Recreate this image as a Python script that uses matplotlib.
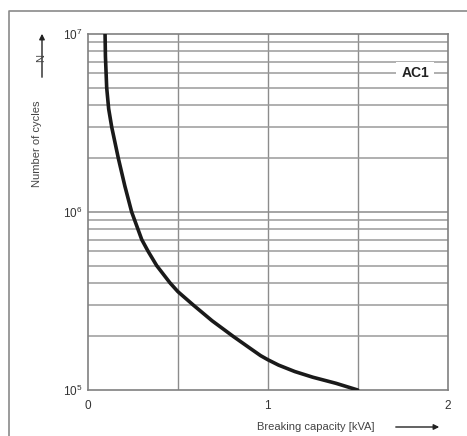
import matplotlib.pyplot as plt
from matplotlib.lines import Line2D

plt.rcParams["font.family"] = ["Liberation Sans", "DejaVu Sans"]
plt.rcParams["mathtext.fontset"] = "custom"
plt.rcParams["mathtext.rm"] = "Liberation Sans"
plt.rcParams["mathtext.it"] = "Liberation Sans:italic"
plt.rcParams["mathtext.bf"] = "Liberation Sans:bold"

# curve: breaking capacity [kVA] vs number of cycles
capacity = [0.095, 0.097, 0.104, 0.115, 0.132, 0.169, 0.205, 0.243, 0.299, 0.335,
            0.382, 0.456, 0.5, 0.586, 0.69, 0.808, 0.9, 0.96, 1.0, 1.06, 1.15,
            1.25, 1.38, 1.5]
cycles = [1.0e7, 7.5e6, 5.0e6, 3.8e6, 3.0e6, 2.0e6, 1.4e6, 1.0e6, 7.0e5, 6.0e5,
          5.0e5, 4.0e5, 3.57e5, 3.0e5, 2.45e5, 2.0e5, 1.72e5, 1.56e5, 1.48e5,
          1.38e5, 1.27e5, 1.18e5, 1.09e5, 1.0e5]

x_ticks = [0, 1, 2]
x_grid = [0.5, 1.5]
y_ticks = [1e5, 1e6, 1e7]
y_tick_labels = [r"$10^5$", r"$10^6$", r"$10^7$"]
series_label = "AC1"

fig = plt.figure(figsize=(4.67, 4.36), dpi=100)
ax = fig.add_axes([0.1884, 0.1055, 0.770, 0.8165])

ax.set_yscale("log")
ax.set_xlim(0, 2)
ax.set_ylim(1e5, 1e7)

# grid
for xv in x_grid + [1]:
    ax.axvline(xv, color="#8c8c8c", lw=1.0, zorder=1)
for dec in [1e5, 1e6]:
    for m in range(2, 10):
        ax.axhline(m * dec, color="#9a9a9a", lw=1.1, zorder=1)
ax.axhline(1e6, color="#8c8c8c", lw=1.1, zorder=1)

ax.plot(capacity, cycles, color="#1a1a1a", lw=2.6, zorder=3,
        solid_capstyle="round", solid_joinstyle="round")

for s in ax.spines.values():
    s.set_color("#808080")
    s.set_linewidth(1.2)

ax.set_xticks(x_ticks)
ax.set_xticklabels([str(v) for v in x_ticks])
ax.set_yticks(y_ticks)
ax.set_yticklabels(y_tick_labels)
ax.minorticks_off()
ax.tick_params(length=0, labelsize=8.5, colors="#333333", pad=7)
ax.tick_params(axis="y", pad=4)

# AC1 label on a white box
ax.text(1.82, 6.0e6, series_label, ha="center", va="center", fontsize=10,
        fontweight="bold", color="#222222", zorder=4,
        bbox=dict(facecolor="white", edgecolor="none", pad=3.5))

# axis labels with arrows
fig.text(316 / 467, 1 - 427 / 436, "Breaking capacity [kVA]", ha="center",
         va="center", fontsize=8, color="#444444")
ax.annotate("", xy=(442 / 467, 1 - 427 / 436), xytext=(393 / 467, 1 - 427 / 436),
            xycoords="figure fraction",
            arrowprops=dict(arrowstyle="-|>", color="#222222", lw=1.0,
                            mutation_scale=8))
fig.text(37 / 467, 1 - 144 / 436, "Number of cycles", rotation=90, ha="center",
         va="center", fontsize=8, color="#444444")
fig.text(41 / 467, 1 - 58 / 436, "N", rotation=90, ha="center", va="center",
         fontsize=8, color="#444444")
ax.annotate("", xy=(42 / 467, 1 - 31 / 436), xytext=(42 / 467, 1 - 80 / 436),
            xycoords="figure fraction",
            arrowprops=dict(arrowstyle="-|>", color="#222222", lw=1.0,
                            mutation_scale=8))

# outer frame
fx = 8.5 / 467
fy = 1 - 11.5 / 436
fig.add_artist(Line2D([fx, fx, 1.0], [0.0, fy, fy], transform=fig.transFigure,
                      color="#8a8a8a", lw=1.2))

fig.savefig("out.png", dpi=100)
